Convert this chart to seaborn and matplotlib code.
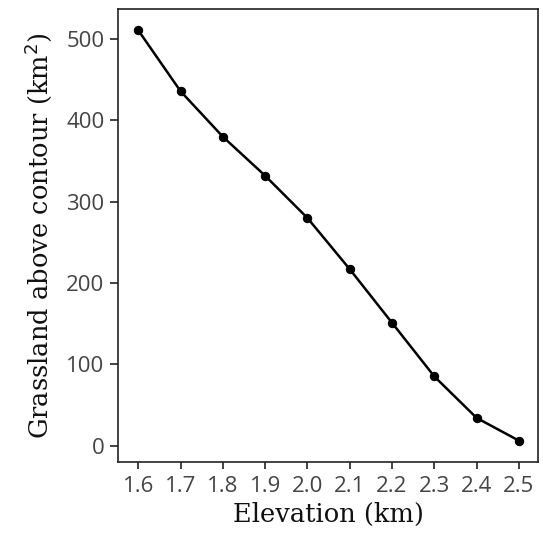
import pandas as pd
import matplotlib
matplotlib.use("Agg")
import matplotlib.pyplot as plt
import seaborn as sns

# values
elevation = [1.6, 1.7, 1.8, 1.9, 2.0, 2.1, 2.2, 2.3, 2.4, 2.5]
grassland = [511, 436, 380, 332, 280, 217, 151, 85, 34, 6]
xtick_labels = ["1.6", "1.7", "1.8", "1.9", "2.0", "2.1", "2.2", "2.3", "2.4", "2.5"]
ytick_values = [0, 100, 200, 300, 400, 500]

df = pd.DataFrame({"elevation": elevation, "grassland": grassland})

sns.set_style("ticks")
plt.rcParams["font.family"] = ["Open Sans", "DejaVu Sans"]

fig, ax = plt.subplots(figsize=(5.43, 5.37), dpi=100)
sns.lineplot(data=df, x="elevation", y="grassland", color="black",
             linewidth=1.8, marker="o", markersize=6, markeredgecolor="black", ax=ax)

ax.set_xlim(1.553, 2.544)
ax.set_ylim(-20, 537)
ax.set_xticks(elevation)
ax.set_xticklabels(xtick_labels)
ax.set_yticks(ytick_values)
ax.tick_params(axis="both", labelsize=16, labelcolor="#444444", color="#222222",
               length=5, width=1.2)
ax.tick_params(axis="x", pad=5)
ax.tick_params(axis="y", length=6, pad=4)
for s in ax.spines.values():
    s.set_linewidth(1.2)
    s.set_color("#222222")

serif = ["DejaVu Serif"]
ax.set_xlabel("Elevation (km)", fontsize=18.5, family=serif, labelpad=4, color="#111111")
ax.set_ylabel("Grassland above contour (km$^2$)", fontsize=18.5, family=serif, labelpad=9,
              color="#111111")

fig.subplots_adjust(left=0.218, right=0.99, top=0.983, bottom=0.14)
fig.savefig("out.png", dpi=100)
